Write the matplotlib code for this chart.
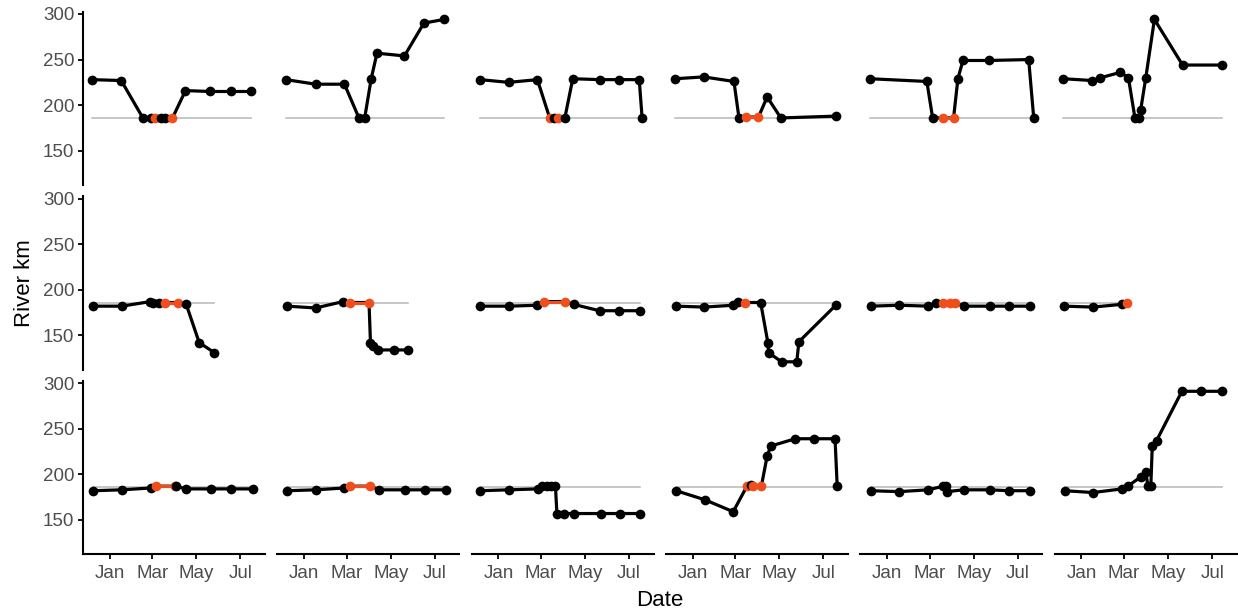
import numpy as np
import pandas as pd
import matplotlib
matplotlib.use("Agg")
import matplotlib.pyplot as plt
import matplotlib.dates as mdates

plt.rcParams['font.family'] = ['Liberation Sans', 'DejaVu Sans']

# reference river km (dam)
dam_km = 186

# one track per fish: dates, river km, and whether the fish was at the dam
f01_date = ["2018-12-08", "2019-01-17", "2019-02-16", "2019-02-27", "2019-03-05", "2019-03-13", "2019-03-19", "2019-03-29", "2019-04-16", "2019-05-20", "2019-06-18", "2019-07-16"]
f01_km = [228, 227, 186, 186, 186, 186, 186, 186, 216, 215, 215, 215]
f01_dam = [0, 0, 0, 0, 1, 0, 0, 1, 0, 0, 0, 0]

f02_date = ["2018-12-07", "2019-01-17", "2019-02-26", "2019-03-18", "2019-03-26", "2019-04-04", "2019-04-12", "2019-05-20", "2019-06-16", "2019-07-14"]
f02_km = [228, 223, 223, 186, 186, 229, 257, 254, 290, 294]
f02_dam = [0, 0, 0, 0, 0, 0, 0, 0, 0, 0]

f03_date = ["2018-12-07", "2019-01-15", "2019-02-24", "2019-03-13", "2019-03-19", "2019-03-25", "2019-04-03", "2019-04-14", "2019-05-21", "2019-06-17", "2019-07-15", "2019-07-19"]
f03_km = [228, 225, 228, 186, 186, 186, 186, 229, 228, 228, 228, 186]
f03_dam = [0, 0, 0, 1, 0, 1, 0, 0, 0, 0, 0, 0]

f04_date = ["2018-12-08", "2019-01-16", "2019-02-27", "2019-03-06", "2019-03-16", "2019-04-02", "2019-04-14", "2019-05-03", "2019-07-18"]
f04_km = [229, 231, 226, 186, 187, 187, 209, 186, 188]
f04_dam = [0, 0, 0, 0, 1, 1, 0, 0, 0]

f05_date = ["2018-12-08", "2019-02-25", "2019-03-05", "2019-03-19", "2019-04-03", "2019-04-09", "2019-04-16", "2019-05-22", "2019-07-16", "2019-07-23"]
f05_km = [229, 226, 186, 186, 186, 229, 249, 249, 250, 186]
f05_dam = [0, 0, 0, 1, 1, 0, 0, 0, 0, 0]

f06_date = ["2018-12-07", "2019-01-16", "2019-01-27", "2019-02-24", "2019-03-07", "2019-03-16", "2019-03-21", "2019-03-24", "2019-03-31", "2019-04-12", "2019-05-21", "2019-07-15"]
f06_km = [229, 227, 230, 236, 230, 186, 186, 195, 230, 294, 244, 244]
f06_dam = [0, 0, 0, 0, 0, 0, 0, 0, 0, 0, 0, 0]

f07_date = ["2018-12-09", "2019-01-18", "2019-02-26", "2019-03-02", "2019-03-10", "2019-03-18", "2019-04-05", "2019-04-17", "2019-05-05", "2019-05-26"]
f07_km = [182, 182, 187, 185, 185, 186, 186, 184, 142, 131]
f07_dam = [0, 0, 0, 0, 0, 1, 1, 0, 0, 0]

f08_date = ["2018-12-09", "2019-01-17", "2019-02-24", "2019-03-05", "2019-04-01", "2019-04-03", "2019-04-06", "2019-04-14", "2019-05-05", "2019-05-25"]
f08_km = [182, 180, 187, 186, 186, 142, 138, 134, 134, 134]
f08_dam = [0, 0, 0, 1, 1, 0, 0, 0, 0, 0]

f09_date = ["2018-12-07", "2019-01-16", "2019-02-24", "2019-03-05", "2019-04-03", "2019-04-15", "2019-05-21", "2019-06-17", "2019-07-16"]
f09_km = [182, 182, 183, 187, 187, 184, 177, 177, 177]
f09_dam = [0, 0, 0, 1, 1, 0, 0, 0, 0]

f10_date = ["2018-12-09", "2019-01-17", "2019-02-26", "2019-03-04", "2019-03-15", "2019-04-05", "2019-04-15", "2019-04-16", "2019-05-04", "2019-05-25", "2019-05-28", "2019-07-18"]
f10_km = [182, 181, 183, 187, 186, 186, 142, 131, 121, 121, 143, 183]
f10_dam = [0, 0, 0, 0, 1, 0, 0, 0, 0, 0, 0, 0]

f11_date = ["2018-12-09", "2019-01-18", "2019-02-27", "2019-03-09", "2019-03-19", "2019-03-29", "2019-04-05", "2019-04-17", "2019-05-23", "2019-06-19", "2019-07-18"]
f11_km = [182, 183, 182, 186, 186, 186, 186, 182, 182, 182, 182]
f11_dam = [0, 0, 0, 0, 1, 1, 1, 0, 0, 0, 0]

f12_date = ["2018-12-08", "2019-01-17", "2019-02-26", "2019-03-05"]
f12_km = [182, 181, 184, 186]
f12_dam = [0, 0, 0, 1]

f13_date = ["2018-12-09", "2019-01-18", "2019-02-27", "2019-03-06", "2019-04-02", "2019-04-03", "2019-04-17", "2019-05-21", "2019-06-18", "2019-07-18"]
f13_km = [182, 183, 185, 187, 187, 187, 184, 184, 184, 184]
f13_dam = [0, 0, 0, 1, 1, 0, 0, 0, 0, 0]

f14_date = ["2018-12-09", "2019-01-17", "2019-02-26", "2019-03-05", "2019-04-03", "2019-04-15", "2019-05-21", "2019-06-18", "2019-07-17"]
f14_km = [182, 183, 185, 187, 187, 183, 183, 183, 183]
f14_dam = [0, 0, 0, 1, 1, 0, 0, 0, 0]

f15_date = ["2018-12-07", "2019-01-16", "2019-02-25", "2019-03-03", "2019-03-09", "2019-03-15", "2019-03-21", "2019-03-23", "2019-04-02", "2019-04-15", "2019-05-23", "2019-06-18", "2019-07-16"]
f15_km = [182, 183, 184, 187, 187, 187, 187, 157, 157, 157, 157, 157, 157]
f15_dam = [0, 0, 0, 0, 0, 0, 0, 0, 0, 0, 0, 0, 0]

f16_date = ["2018-12-09", "2019-01-18", "2019-02-26", "2019-03-17", "2019-03-23", "2019-03-26", "2019-04-06", "2019-04-14", "2019-04-19", "2019-05-23", "2019-06-18", "2019-07-17", "2019-07-20"]
f16_km = [182, 172, 159, 187, 188, 187, 187, 220, 231, 239, 239, 239, 187]
f16_dam = [0, 0, 0, 1, 0, 1, 1, 0, 0, 0, 0, 0, 0]

f17_date = ["2018-12-09", "2019-01-18", "2019-02-27", "2019-03-20", "2019-03-23", "2019-03-25", "2019-04-17", "2019-05-23", "2019-06-19", "2019-07-18"]
f17_km = [182, 181, 183, 187, 187, 181, 183, 183, 182, 182]
f17_dam = [0, 0, 0, 0, 0, 0, 0, 0, 0, 0]

f18_date = ["2018-12-09", "2019-01-17", "2019-02-26", "2019-03-06", "2019-03-24", "2019-03-31", "2019-04-03", "2019-04-07", "2019-04-09", "2019-04-15", "2019-05-20", "2019-06-16", "2019-07-15"]
f18_km = [182, 180, 184, 187, 197, 203, 187, 187, 231, 237, 291, 291, 291]
f18_dam = [0, 0, 0, 0, 0, 0, 0, 0, 0, 0, 0, 0, 0]

fish = [
    (f01_date, f01_km, f01_dam), (f02_date, f02_km, f02_dam), (f03_date, f03_km, f03_dam),
    (f04_date, f04_km, f04_dam), (f05_date, f05_km, f05_dam), (f06_date, f06_km, f06_dam),
    (f07_date, f07_km, f07_dam), (f08_date, f08_km, f08_dam), (f09_date, f09_km, f09_dam),
    (f10_date, f10_km, f10_dam), (f11_date, f11_km, f11_dam), (f12_date, f12_km, f12_dam),
    (f13_date, f13_km, f13_dam), (f14_date, f14_km, f14_dam), (f15_date, f15_km, f15_dam),
    (f16_date, f16_km, f16_dam), (f17_date, f17_km, f17_dam), (f18_date, f18_km, f18_dam),
]

orange = '#F04E1C'

fig, axes = plt.subplots(3, 6, figsize=(12.38, 6.15), dpi=100, sharex=True, sharey=True)
fig.subplots_adjust(left=0.067, right=0.999, top=0.981, bottom=0.099, wspace=0.068, hspace=0.065)

for i, ax in enumerate(axes.flat):
    d, km, dam = fish[i]
    t = pd.to_datetime(d)
    km = np.array(km)
    dam = np.array(dam, dtype=bool)

    ax.plot([t.min(), t.max()], [dam_km, dam_km], color='#BEBEBE', lw=1.2, zorder=1)
    ax.plot(t, km, color='black', lw=2.3, zorder=2)
    # segments between consecutive dam detections
    for j in range(len(km) - 1):
        if dam[j] and dam[j + 1]:
            ax.plot(t[j:j + 2], km[j:j + 2], color=orange, lw=2.3, zorder=3)
    for j in range(len(km)):
        ax.plot(t[j], km[j], 'o', ms=7, color=orange if dam[j] else 'black',
                mec='none', zorder=4)

    r, c = divmod(i, 6)
    for s in ['top', 'right', 'left', 'bottom']:
        ax.spines[s].set_visible(False)
    if c == 0:
        ax.spines['left'].set_visible(True)
        ax.spines['left'].set_linewidth(1.5)
    if r == 2:
        ax.spines['bottom'].set_visible(True)
        ax.spines['bottom'].set_linewidth(1.5)
    ax.tick_params(axis='y', left=(c == 0), labelleft=(c == 0), length=3.6, width=1.3,
                   labelsize=13.5, labelcolor='#4D4D4D', pad=2.5)
    ax.tick_params(axis='x', bottom=(r == 2), labelbottom=(r == 2), length=3.6, width=1.3,
                   labelsize=13.5, labelcolor='#4D4D4D', pad=4)

ax0 = axes[0, 0]
ax0.set_ylim(112.5, 302.5)
ax0.set_yticks([150, 200, 250, 300])
ax0.set_xlim(pd.Timestamp("2018-11-25"), pd.Timestamp("2019-08-04"))
ax0.xaxis.set_major_locator(mdates.MonthLocator(bymonth=[1, 3, 5, 7]))
ax0.xaxis.set_major_formatter(mdates.DateFormatter('%b'))

fig.text(0.533, 0.006, 'Date', ha='center', va='bottom', fontsize=16)
fig.text(0.011, 0.54, 'River km', ha='left', va='center', rotation=90, fontsize=16)

fig.savefig('out.png', dpi=100)
